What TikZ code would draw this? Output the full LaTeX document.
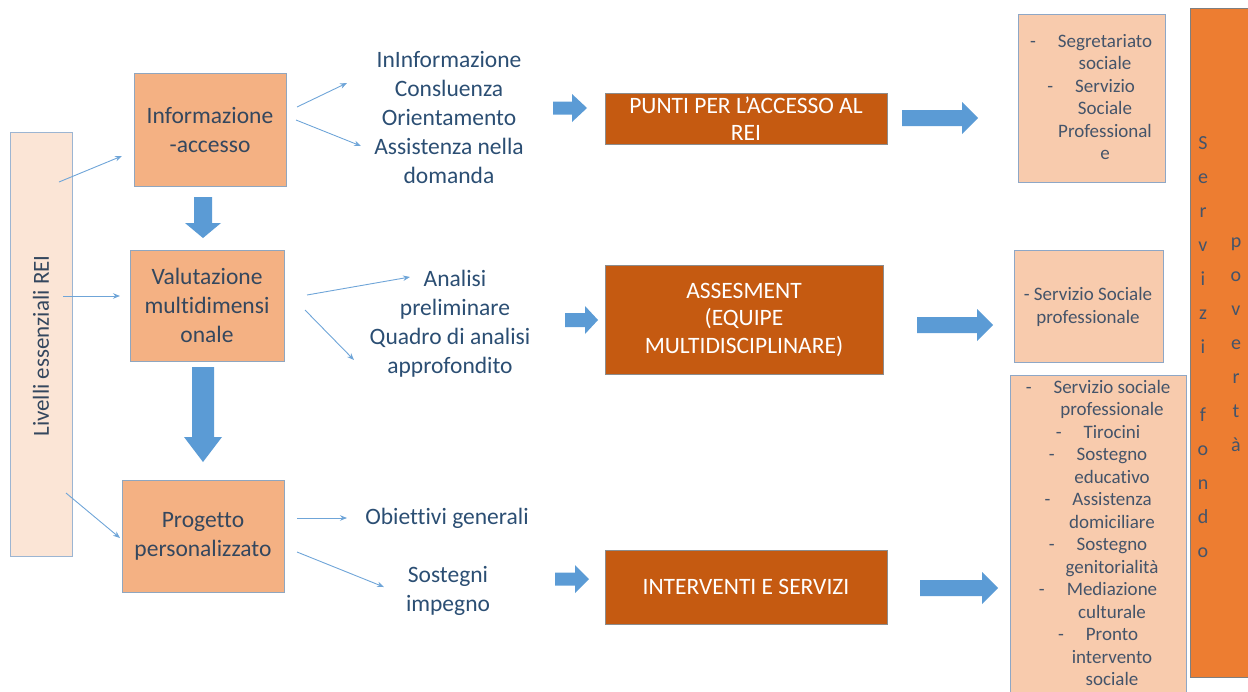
\documentclass[tikz,border=0pt]{standalone}
\usepackage{fontspec}
\setmainfont[Ligatures={NoCommon}]{Carlito}
\usetikzlibrary{arrows.meta,calc}
\definecolor{blockblue}{HTML}{5B9BD5}
\definecolor{thinblue}{HTML}{6FA5D8}
\definecolor{levfill}{HTML}{FBE5D6}
\definecolor{levdraw}{HTML}{9CB5D2}
\definecolor{boxfill}{HTML}{F4B183}
\definecolor{boxdraw}{HTML}{8FA6BF}
\definecolor{darkfill}{HTML}{C55A11}
\definecolor{darkdraw}{HTML}{8C8C8C}
\definecolor{rfill}{HTML}{F8CBAD}
\definecolor{rdraw}{HTML}{8EA7C6}
\definecolor{barfill}{HTML}{ED7D31}
\definecolor{bardraw}{HTML}{7F7F7F}
\definecolor{textdark}{HTML}{34475E}
\definecolor{textblue}{HTML}{2B4E73}
\definecolor{rtext}{HTML}{44546A}
% horizontal block arrow: x1, x2, yc, shaft half, head half, head length
\newcommand{\harr}[6]{\fill[blockblue] (#1,{#3-#4}) -- ({#2-#6},{#3-#4}) -- ({#2-#6},{#3-#5}) -- (#2,#3) -- ({#2-#6},{#3+#5}) -- ({#2-#6},{#3+#4}) -- (#1,{#3+#4}) -- cycle;}
% vertical block arrow: xc, y1, y2, shaft half, head half, head length
\newcommand{\varr}[6]{\fill[blockblue] ({#1-#4},#2) -- ({#1+#4},#2) -- ({#1+#4},{#3-#6}) -- ({#1+#5},{#3-#6}) -- (#1,#3) -- ({#1-#5},{#3-#6}) -- ({#1-#4},{#3-#6}) -- cycle;}
\newcommand{\dsh}{\llap{-\hspace{22pt}}}
\begin{document}
\begin{tikzpicture}[x=1pt,y=-1pt,
  lvl/.style={draw=levdraw, fill=levfill, line width=1pt},
  pbox/.style={draw=boxdraw, fill=boxfill, line width=1pt, text=textdark, align=center, font=\fontsize{23.5}{29}\selectfont, inner sep=0pt},
  dbox/.style={draw=darkdraw, fill=darkfill, line width=1pt, text=white, align=center, font=\fontsize{23.5}{27.5}\selectfont, inner sep=0pt},
  rbox/.style={draw=rdraw, fill=rfill, line width=1pt, inner sep=0pt},
  lbl/.style={text=textblue, align=center, font=\fontsize{23.5}{29}\selectfont, inner sep=0pt},
  rlbl/.style={text=rtext, align=center, font=\fontsize{19}{22.5}\selectfont, inner sep=0pt},
  vlbl/.style={text=rtext, align=center, font=\fontsize{20}{34}\selectfont, inner sep=0pt},
  conn/.style={draw=thinblue, line width=0.9pt, -{Stealth[length=7pt,width=5.5pt]}},
]
\useasboundingbox (0,0) rectangle (1248,691);
\clip (0,0) rectangle (1248,691);

% left panel
\node[lvl, minimum width=62pt, minimum height=424pt, inner sep=0pt] (lev) at (41,344) {};
\node[rotate=90, text=textdark, font=\fontsize{23}{28}\selectfont, inner sep=0pt] (levt) at (41,346) {Livelli essenziali REI};

% main boxes
\node[pbox, minimum width=152pt, minimum height=113pt] (info) at (210,129.5) {Informazione\\-accesso};
\node[pbox, minimum width=154pt, minimum height=111pt] (valu) at (207,305.5) {Valutazione\\multidimensi\\onale};
\node[pbox, minimum width=162pt, minimum height=112pt] (prog) at (203,536) {Progetto\\personalizzato};

% vertical block arrows
\varr{203}{197}{238}{9}{18}{15}
\varr{203}{367}{462}{11}{19}{25}

% thin arrows from left panel
\coordinate (l1s) at (59,182); \coordinate (l1e) at (122,156);
\coordinate (l2s) at (63,296); \coordinate (l2e) at (120,296);
\coordinate (l3s) at (66,493); \coordinate (l3e) at (120,538);
\draw[conn] (l1s) -- (l1e);
\draw[conn] (l2s) -- (l2e);
\draw[conn] (l3s) -- (l3e);

% middle texts
\node[lbl] (t1) at (449,117) {InInformazione\\Consluenza\\Orientamento\\Assistenza nella\\domanda};
\node[lbl] (t2) at (450,324) {\hspace*{10pt}Analisi\\\hspace*{10pt}preliminare\\Quadro di analisi\\approfondito};
\node[lbl] (t3) at (447,518) {Obiettivi generali};
\node[lbl] (t4) at (448,591) {Sostegni\\impegno};

\coordinate (a1s) at (297,107); \coordinate (a1e) at (347,83);
\coordinate (a2s) at (296,120); \coordinate (a2e) at (361,146);
\coordinate (b1s) at (307,295); \coordinate (b1e) at (410,277);
\coordinate (b2s) at (305,310); \coordinate (b2e) at (354,360);
\coordinate (c1s) at (297,518); \coordinate (c1e) at (347,518);
\coordinate (c2s) at (297,552); \coordinate (c2e) at (384,587);
\draw[conn] (a1s) -- (a1e);
\draw[conn] (a2s) -- (a2e);
\draw[conn] (b1s) -- (b1e);
\draw[conn] (b2s) -- (b2e);
\draw[conn] (c1s) -- (c1e);
\draw[conn] (c2s) -- (c2e);

% small block arrows
\harr{553}{587}{108}{6.5}{14}{15}
\harr{565}{598}{320}{7}{14}{13}
\harr{555}{589}{579}{6.5}{14}{14}

% dark orange boxes
\node[dbox, minimum width=282pt, minimum height=51pt] (punti) at (746,118.5) {PUNTI PER L’ACCESSO AL\\REI};
\node[dbox, minimum width=278pt, minimum height=109pt] (asses) at (744,319.5) {ASSESMENT\\(EQUIPE\\MULTIDISCIPLINARE)};
\node[dbox, minimum width=282pt, minimum height=74pt] (interv) at (746,587) {INTERVENTI E SERVIZI};

% big block arrows
\harr{902}{978}{118}{8}{16}{16}
\harr{917}{993}{325}{8}{16}{16}
\harr{920}{998}{588}{8}{16}{16}

% right boxes
\node[rbox, minimum width=147pt, minimum height=168pt] (r1) at (1091.5,98) {};
\node[rlbl] (r1t) at (1105,97) {\dsh Segretariato\\sociale\\\dsh Servizio\\Sociale\\Professional\\e};
\node[rbox, minimum width=149pt, minimum height=112pt] (r2) at (1088.5,306) {};
\node[rlbl] (r2t) at (1088,307) {- Servizio Sociale\\professionale};
\draw[draw=rdraw, fill=rfill, line width=1pt] (1010,375) rectangle (1186,720);
\node[rlbl] (r3t) at (1112,533) {\dsh Servizio sociale\\professionale\\\dsh Tirocini\\\dsh Sostegno\\educativo\\\dsh Assistenza\\domiciliare\\\dsh Sostegno\\genitorialità\\\dsh Mediazione\\culturale\\\dsh Pronto\\intervento\\sociale};

% vertical orange bar
\node[draw=bardraw, fill=barfill, line width=1pt, minimum width=59pt, minimum height=669pt, inner sep=0pt] (bar) at (1219.5,342.5) {};
\node[vlbl] (v1) at (1203,347) {S\\e\\r\\v\\i\\z\\i\\[34pt]f\\o\\n\\d\\o};
\node[vlbl] (v2) at (1236,345) {p\\o\\v\\e\\r\\t\\à};
\end{tikzpicture}
\end{document}
